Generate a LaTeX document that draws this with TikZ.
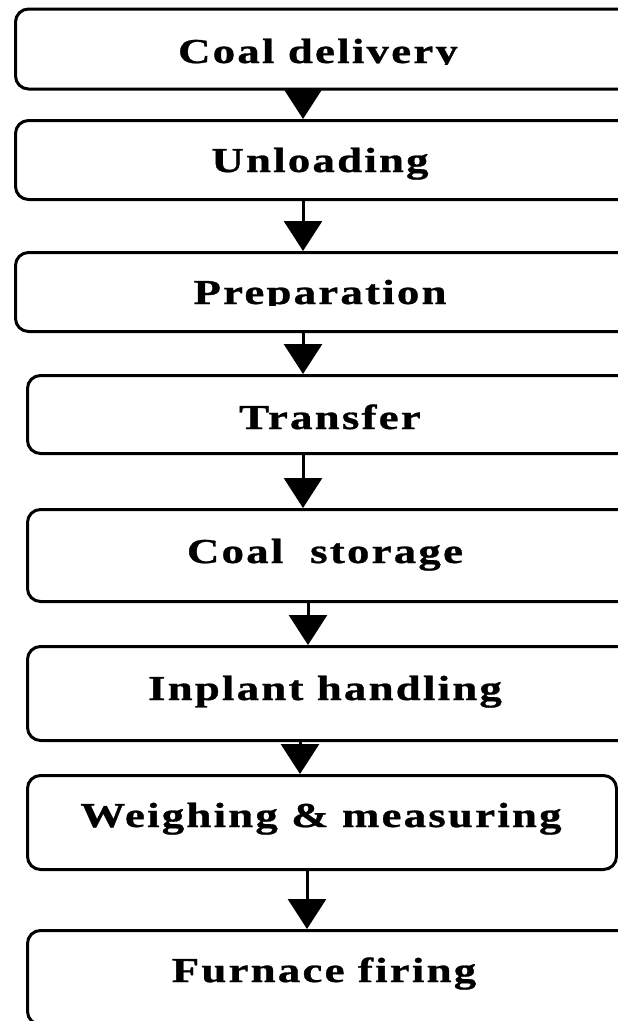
\documentclass[tikz,border=0pt]{standalone}
\usepackage{fontspec}
\setmainfont{Liberation Serif}
\newfontfamily\labelfont[LetterSpace=5,FakeBold=0.8]{Liberation Serif Bold}
\usetikzlibrary{arrows.meta}

\tikzset{
  stage/.style={draw=black, line width=3pt, rounded corners=13pt,
    inner sep=0pt, anchor=north west},
  stagetext/.style={anchor=base, inner sep=0pt,
    font=\labelfont\fontsize{35}{42}\selectfont},
  flow/.style={draw=black, line width=3pt,
    -{Triangle[length=30pt,width=38pt]}}
}
\newcommand{\wide}[1]{\scalebox{1.28}[1]{#1}}

\begin{document}
\begin{tikzpicture}[x=1pt,y=-1pt]
  \useasboundingbox (0,0) rectangle (618,1021);
  \clip (0,0) rectangle (618,1021);

  % process boxes (top-left corner, width, height)
  \node (b1) [stage, minimum width=620pt, minimum height=80pt] at (14,7.5) {};
  \node (b2) [stage, minimum width=620pt, minimum height=79pt] at (14,119) {};
  \node (b3) [stage, minimum width=620pt, minimum height=79pt] at (14,251) {};
  \node (b4) [stage, minimum width=608pt, minimum height=78pt] at (26,374) {};
  \node (b5) [stage, minimum width=608pt, minimum height=92pt] at (26,508) {};
  \node (b6) [stage, minimum width=608pt, minimum height=94pt] at (26,645) {};
  \node (b7) [stage, minimum width=589pt, minimum height=94pt] at (26,774) {};
  \node (b8) [stage, minimum width=608pt, minimum height=94pt] at (26,929) {};

  % labels; the first and third are cut at the baseline
  \begin{scope}
    \clip (0,0) rectangle (618,64.5);
    \node (t1) [stagetext] at (318,63) {\wide{Coal delivery}};
  \end{scope}
  \node (t2) [stagetext] at (320,172) {\wide{Unloading}};
  \begin{scope}
    \clip (0,200) rectangle (618,305.5);
    \node (t3) [stagetext] at (320,304) {\wide{Preparation}};
  \end{scope}
  \node (t4) [stagetext] at (330,429) {\wide{Transfer}};
  \node (t5) [stagetext] at (325,563) {\wide{Coal\ \ storage}};
  \node (t6) [stagetext] at (325,700) {\wide{Inplant handling}};
  \node (t7) [stagetext] at (321,827) {\wide{Weighing \& measuring}};
  \node (t8) [stagetext] at (324,982) {\wide{Furnace firing}};

  % flow arrows
  \draw[flow] (b1.south -| 303,0) -- (b2.north -| 303,0);
  \draw[flow] (b2.south -| 303,0) -- (b3.north -| 303,0);
  \draw[flow] (b3.south -| 303,0) -- (b4.north -| 303,0);
  \draw[flow] (b4.south -| 303,0) -- (b5.north -| 303,0);
  \draw[flow] (b5.south -| 308,0) -- (b6.north -| 308,0);
  \draw[flow] (b6.south -| 300,0) -- (b7.north -| 300,0);
  \draw[flow] (b7.south -| 307,0) -- (b8.north -| 307,0);
\end{tikzpicture}
\end{document}
